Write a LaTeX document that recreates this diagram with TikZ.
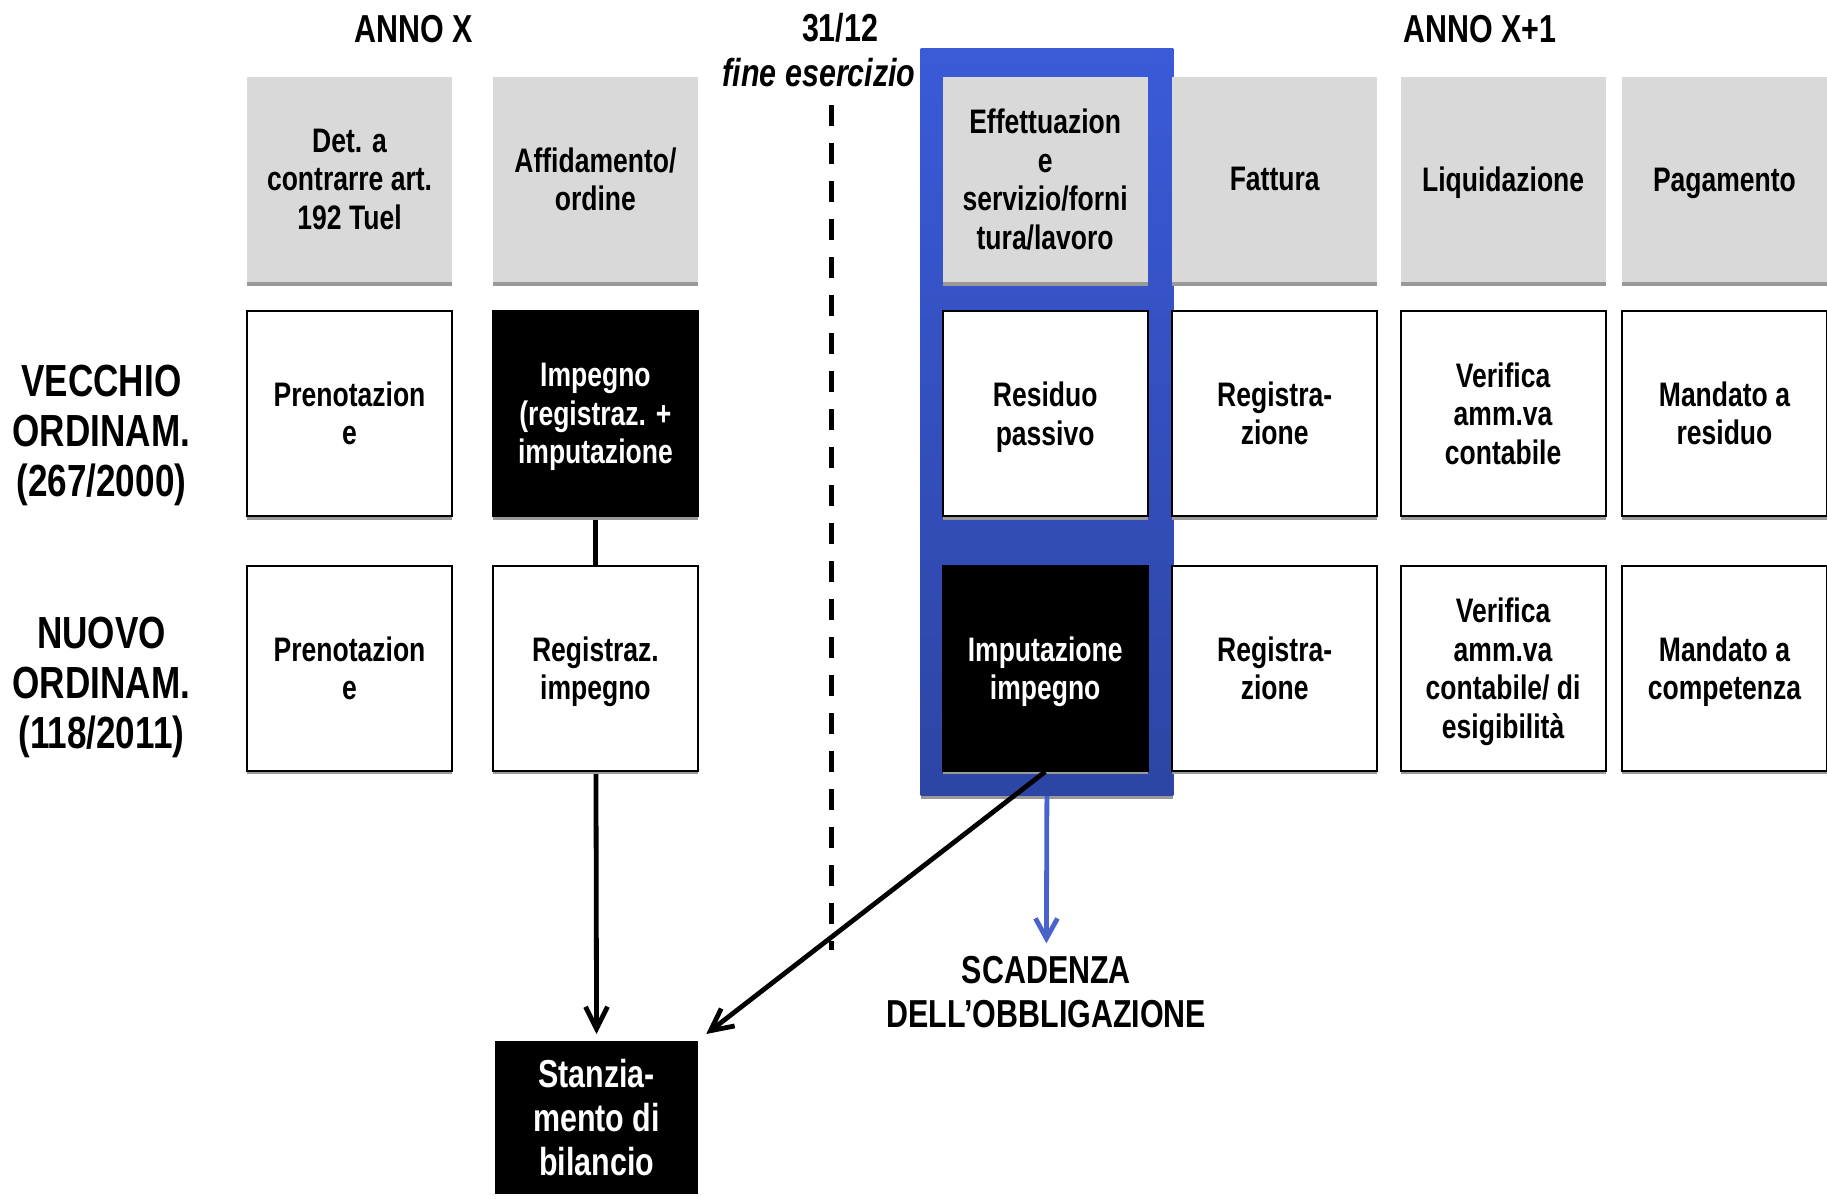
\documentclass[tikz,border=0pt]{standalone}
\usepackage{fontspec}
\setmainfont{Liberation Sans}[FakeStretch=0.78]
\usetikzlibrary{arrows.meta,shadows,backgrounds}
\definecolor{hdrgray}{HTML}{D9D9D9}
\definecolor{bandtop}{HTML}{3A5AD8}
\definecolor{bandbot}{HTML}{2D45A3}
\definecolor{arrblue}{HTML}{4A62CC}
% last lines lose their descender depth so that every text block is centred on its letters
\newcommand{\lastline}[1]{\raisebox{0pt}[\height][0pt]{#1}}
\begin{document}
\begin{tikzpicture}[x=0.5826pt,y=-0.5826pt,
  font=\fontsize{17}{19.2}\selectfont\bfseries,
  boxshadow/.style={drop shadow={shadow xshift=0pt,shadow yshift=-1.8pt,fill=black!40,opacity=1}},
  cell/.style={rectangle,minimum width=102.5pt,minimum height=102.5pt,inner sep=0pt,align=center,boxshadow},
  head/.style={cell,fill=hdrgray},
  plain/.style={cell,draw=black,line width=1pt,fill=white},
  dark/.style={cell,draw=black,line width=1pt,fill=black,text=white},
  title/.style={font=\fontsize{19.5}{22}\selectfont\bfseries,align=center,inner sep=0pt},
  rowlabel/.style={font=\fontsize{22.5}{25}\selectfont\bfseries,align=center,inner sep=0pt},
  flow/.style={line width=2.4pt,-{Straight Barb[length=11pt,width=11pt]}},
]
\useasboundingbox (0,0) rectangle (1568,1029);

% column titles
\node[title] (annox) at (355,25) {ANNO X};
\node[title] (fine) at (721,24) {31/12};
\node[title,font=\fontsize{19.5}{22}\selectfont\bfseries\itshape] (esercizio) at (703,62) {fine esercizio};
\node[title] (annox1) at (1270,25) {ANNO X+1};

% row titles
\node[rowlabel] (vecchio) at (87,370) {VECCHIO\\ORDINAM.\\\lastline{(267/2000)}};
\node[rowlabel] (nuovo) at (87,586) {NUOVO\\ORDINAM.\\\lastline{(118/2011)}};

% year-end separator
\coordinate (cutA) at (714,90);
\coordinate (cutB) at (714,815);
\draw[line width=2.5pt,dash pattern=on 10.5pt off 8.5pt] (cutA) -- (cutB);

% highlighted column
\node[rectangle,minimum width=126.4pt,minimum height=373.4pt,inner sep=0pt,
      top color=bandtop,bottom color=bandbot,boxshadow] (band) at (898.5,362.5) {};

% header row
\node[head] (h1) at (300,154) {Det. a\\contrarre art.\\192 Tuel};
\node[head] (h2) at (511,154) {Affidamento/\\ordine};
\node[head] (h3) at (897,154) {Effettuazion\\e\\servizio/forni\\tura/lavoro};
\node[head] (h4) at (1094,154) {Fattura};
\node[head] (h5) at (1290,154) {\lastline{Liquidazione}};
\node[head] (h6) at (1480,154) {\lastline{Pagamento}};

% old regulation row
\node[plain] (v1) at (300,355) {Prenotazion\\e};
\node[dark]  (v2) at (511,355) {Impegno\\(registraz. +\\\lastline{imputazione}};
\node[plain] (v3) at (897,355) {Residuo\\\lastline{passivo}};
\node[plain] (v4) at (1094,355) {Registra-\\zione};
\node[plain] (v5) at (1290,355) {Verifica\\amm.va\\contabile};
\node[plain] (v6) at (1480,355) {Mandato a\\residuo};

% new regulation row
\node[plain] (n1) at (300,573.5) {Prenotazion\\e};
\node[plain] (n2) at (511,573.5) {Registraz.\\\lastline{impegno}};
\node[dark]  (n3) at (897,573.5) {Imputazione\\\lastline{impegno}};
\node[plain] (n4) at (1094,573.5) {Registra-\\zione};
\node[plain] (n5) at (1290,573.5) {Verifica\\amm.va\\contabile/ di\\\lastline{esigibilità}};
\node[plain] (n6) at (1480,573.5) {Mandato a\\\lastline{competenza}};

% budget allocation
\node[rectangle,fill=black,text=white,minimum width=101.4pt,minimum height=76.9pt,inner sep=0pt,
      align=center,font=\fontsize{19.5}{22}\selectfont\bfseries] (stanz) at (512,959) {Stanzia-\\mento di\\bilancio};

% due date label
\node[title] (scad) at (898,851) {SCADENZA\\DELL’OBBLIGAZIONE};

% connectors
\begin{scope}[on background layer]
  \draw[flow,shorten >=3pt] (v2.south) -- (stanz.north);
\end{scope}
\draw[flow,shorten >=5pt] (n3.south) -- (stanz.north east);
\draw[line width=2.4pt,arrblue,-{Straight Barb[length=10pt,width=11pt]},shorten >=6pt] (band.south) -- (scad.north);

\end{tikzpicture}
\end{document}
